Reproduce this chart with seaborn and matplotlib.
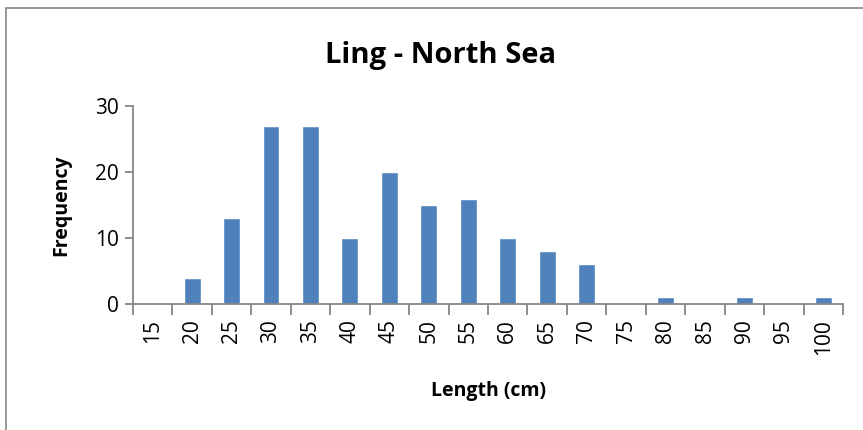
import numpy as np
import pandas as pd
import matplotlib
matplotlib.use("Agg")
import matplotlib.pyplot as plt
from matplotlib.patches import Rectangle
from matplotlib.ticker import FixedLocator
import seaborn as sns

# Length classes (cm) and counts
lengths = ["15", "20", "25", "30", "35", "40", "45", "50", "55",
           "60", "65", "70", "75", "80", "85", "90", "95", "100"]
frequency = [0, 4, 13, 27, 27, 10, 20, 15, 16, 10, 8, 6, 0, 1, 0, 1, 0, 1]
y_ticks = [0, 10, 20, 30]

sns.set_style("white")
plt.rcParams["font.family"] = ["Open Sans", "DejaVu Sans"]
plt.rcParams["text.color"] = "black"
plt.rcParams["xtick.color"] = "black"
plt.rcParams["ytick.color"] = "black"
plt.rcParams["axes.labelcolor"] = "black"

df = pd.DataFrame({"length": lengths, "frequency": frequency})

fig = plt.figure(figsize=(8.63, 4.30), dpi=100)
ax = fig.add_axes([0.154, 0.293, 0.823, 0.46])

sns.barplot(data=df, x="length", y="frequency", color="#4F81BD",
            saturation=1, width=0.43, ax=ax)

axis_grey = "#868686"
ax.set_xlim(-0.5, len(lengths) - 0.5)
ax.set_ylim(0, 30)
ax.set_yticks(y_ticks)
for side in ["top", "right"]:
    ax.spines[side].set_visible(False)
for side in ["left", "bottom"]:
    ax.spines[side].set_color(axis_grey)
    ax.spines[side].set_linewidth(1.3)

ax.xaxis.set_minor_locator(FixedLocator(np.arange(-0.5, len(lengths), 1.0)))
ax.tick_params(axis="x", which="major", length=0, pad=11, labelsize=15,
               rotation=90, bottom=True)
ax.tick_params(axis="x", which="minor", length=8, width=1.3,
               color=axis_grey, direction="out", bottom=True)
ax.tick_params(axis="y", length=6, width=1.3, color=axis_grey,
               direction="out", labelsize=15, left=True, pad=4)

ax.set_xlabel("Length (cm)", fontsize=14, fontweight="bold", labelpad=19)
ax.set_ylabel("Frequency", fontsize=14, fontweight="bold", labelpad=17)
fig.text(0.51, 0.872, "Ling - North Sea", fontsize=21, fontweight="bold",
         ha="center", va="center")

# chart area border
fig.patches.append(Rectangle((6 / 863, -0.05), 1.2, 1 - 8 / 430 + 0.05,
                             transform=fig.transFigure, fill=False,
                             edgecolor=axis_grey, linewidth=1.2))

fig.savefig("out.png", dpi=100)
